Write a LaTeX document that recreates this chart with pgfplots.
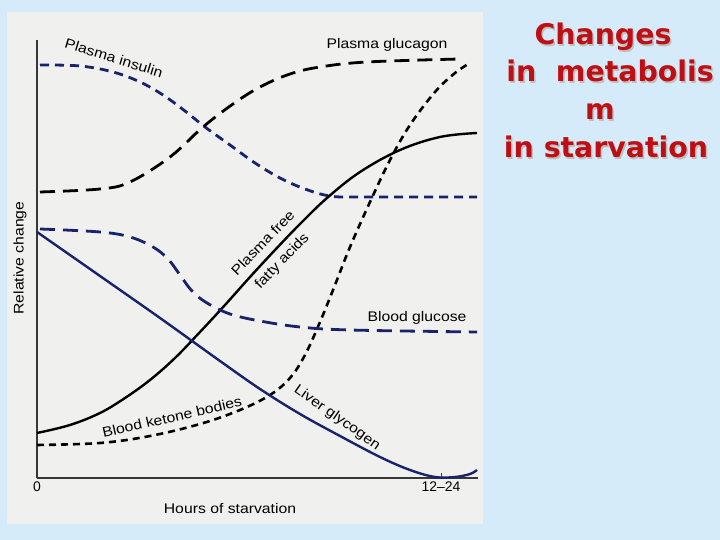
\documentclass[border=0pt]{standalone}
\usepackage{pgfplots}
\pgfplotsset{compat=1.18}
\usepackage{fontspec}
\setmainfont{Liberation Sans}
\newfontfamily\titlefont{DejaVu Sans}
\definecolor{bgblue}{RGB}{214,235,250}
\definecolor{panel}{RGB}{240,240,238}
\definecolor{navy}{RGB}{25,35,105}
\definecolor{axisgray}{RGB}{55,55,55}
\definecolor{titlered}{RGB}{190,15,20}
\newcommand{\lbl}[1]{\scalebox{1.13}[1]{#1}}
\begin{document}
\begin{tikzpicture}[x=1bp,y=1bp]
\fill[bgblue] (0,0) rectangle (720,540);
\fill[panel] (7,16) rectangle (483,528);
\begin{axis}[
  at={(37bp,62bp)}, anchor=south west,
  scale only axis, width=441bp, height=438bp,
  xmin=37, xmax=478, ymin=62, ymax=500,
  axis x line=bottom, axis y line=left,
  axis line style={-, line width=2bp, color=axisgray},
  xtick={37,441}, xticklabels={0,{12–24}},
  ytick=\empty,
  tick align=inside, major tick length=5bp,
  xtick style={line width=0.8bp, color=axisgray},
  tick label style={font=\fontsize{14}{16}\selectfont},
  /pgf/number format/assume math mode=true,
  clip=false,
]
% Plasma insulin
\addplot[navy, line width=2.8bp, dash pattern=on 9bp off 6bp, smooth, tension=0.6] coordinates {
(40,475) (80,474) (113,468) (140,458) (163,445) (185,429) (205,413) (230,395) (255,377) (280,362) (305,351) (330,344) (360,343) (477,343)};
% Plasma glucagon
\addplot[black, line width=2.8bp, dash pattern=on 15bp off 8bp, smooth, tension=0.6] coordinates {
(40,348) (100,351) (130,358) (170,383) (203,413) (233,436) (260,453) (290,466) (320,473) (367,478) (460,481)};
% Plasma free fatty acids
\addplot[black, line width=2.4bp, smooth, tension=0.6] coordinates {
(37,107) (70,115) (100,127) (125,142) (150,160) (175,182) (200,208) (225,235) (250,263) (275,290) (300,316) (327,342) (360,368) (400,390) (440,403) (477,407)};
% Blood ketone bodies
\addplot[black, line width=2.6bp, dash pattern=on 7bp off 5bp, smooth, tension=0.6] coordinates {
(37,95) (100,97) (150,104) (200,116) (240,130) (270,145) (290,162) (305,185) (320,218) (335,255) (350,293) (370,338) (390,380) (410,415) (435,448) (455,467) (470,477)};
% Blood glucose
\addplot[navy, line width=2.8bp, dash pattern=on 15bp off 8bp, smooth, tension=0.6] coordinates {
(40,311) (100,308) (130,303) (153,293) (168,281) (180,265) (192,249) (207,237) (230,226) (260,219) (300,213) (350,210) (477,208)};
% Liver glycogen
\addplot[navy, line width=2.4bp, smooth, tension=0.6] coordinates {
(37,308) (100,264) (160,222) (220,179) (260,151) (300,126) (340,104) (380,83) (410,70) (435,63) (455,63) (470,66) (477,70)};

\node[rotate=-17, font=\fontsize{14}{16}\selectfont] at (axis cs:114,482) {\lbl{Plasma insulin}};
\node[font=\fontsize{14}{16}\selectfont] at (axis cs:387,495) {\lbl{Plasma glucagon}};
\node[rotate=46, align=center, font=\fontsize{14}{26}\selectfont] at (axis cs:273,287.5) {\lbl{Plasma free}\\\lbl{fatty acids}};
\node[font=\fontsize{14}{16}\selectfont] at (axis cs:417,222) {\lbl{Blood glucose}};
\node[rotate=13, font=\fontsize{14}{16}\selectfont] at (axis cs:172,123) {\lbl{Blood ketone bodies}};
\node[rotate=-35, font=\fontsize{14}{16}\selectfont] at (axis cs:337,122) {\lbl{Liver glycogen}};
\node[rotate=90, font=\fontsize{14}{16}\selectfont] at (axis cs:20,282) {\lbl{Relative change}};
\node[font=\fontsize{14}{16}\selectfont] at (axis cs:230,31) {\lbl{Hours of starvation}};
\end{axis}
% title
\foreach \t/\xx/\yy in {Changes/603/495, in\ \ metabolis/610/458, m/600/420, in starvation/606/382}{
  \node[anchor=base, text=gray!50, font=\titlefont\bfseries\fontsize{28.5}{34}\selectfont] at (\xx+1.5,\yy-1.5) {\t};
  \node[anchor=base, text=titlered, font=\titlefont\bfseries\fontsize{28.5}{34}\selectfont] at (\xx,\yy) {\t};
}
\end{tikzpicture}
\end{document}
